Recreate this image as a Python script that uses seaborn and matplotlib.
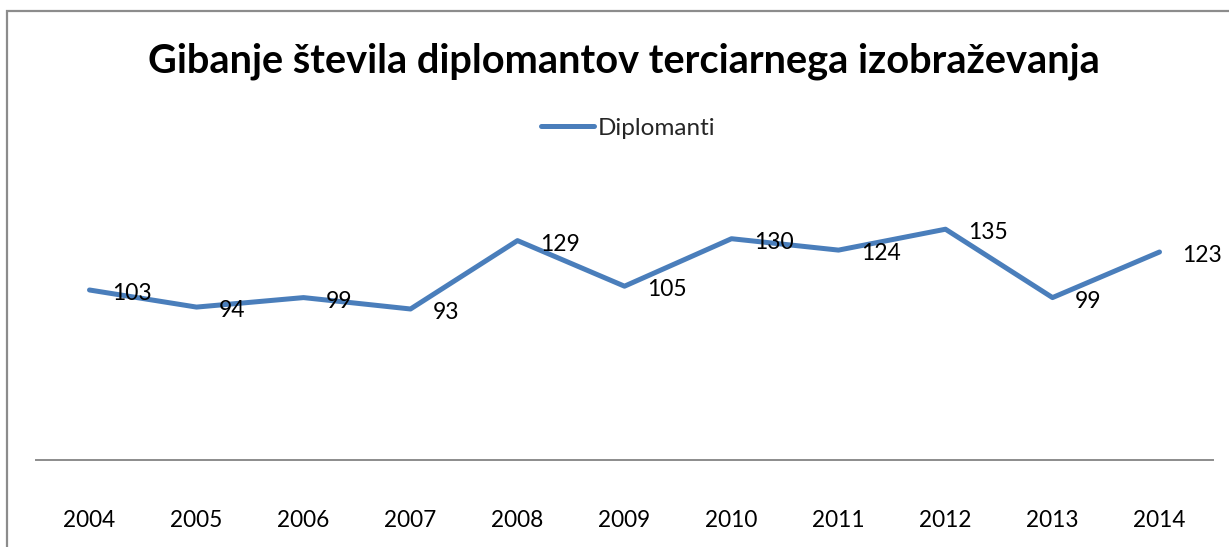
import matplotlib
matplotlib.use("Agg")
import matplotlib.pyplot as plt
import matplotlib.patches as mpatches
import pandas as pd
import seaborn as sns

# --- data ---
years = ["2004", "2005", "2006", "2007", "2008", "2009",
         "2010", "2011", "2012", "2013", "2014"]
graduates = [103, 94, 99, 93, 129, 105, 130, 124, 135, 99, 123]
series_name = "Diplomanti"
title = "Gibanje števila diplomantov terciarnega izobraževanja"

df = pd.DataFrame({"leto": years, "vrednost": graduates})

sns.set_theme(style="white")
plt.rcParams["font.family"] = ["Lato", "DejaVu Sans"]

W, H = 1229, 547
fig = plt.figure(figsize=(W / 100, H / 100), dpi=100)
ax = fig.add_axes([36 / W, 87 / H, (1213 - 36) / W, (460 - 150) / H])

line_color = "#4A7EBB"
sns.lineplot(data=df, x="leto", y="vrednost", ax=ax, color=line_color,
             linewidth=3.6, solid_capstyle="round", solid_joinstyle="round",
             sort=False, label=series_name, legend=False)

ax.set_xlim(-0.5, len(years) - 0.5)
ax.set_ylim(13.5, 176.7)

# data labels to the right of each point
for i, v in enumerate(graduates):
    ax.annotate(str(v), (i, v), xytext=(16, -2.5), textcoords="offset points",
                ha="left", va="center", fontsize=16.5, color="black")

# axis styling (Excel look: only a gray category axis)
for side in ["top", "right", "left"]:
    ax.spines[side].set_visible(False)
ax.spines["bottom"].set_color("#8c8c8c")
ax.spines["bottom"].set_linewidth(1.4)
ax.set_yticks([])
ax.set_xlabel("")
ax.set_ylabel("")
ax.tick_params(axis="x", length=0, pad=36, labelsize=16.3, colors="black")

fig.text(624 / W, 1 - 61 / H, title, ha="center", va="center",
         fontsize=28.6, fontweight="bold", color="black")

handle = plt.Line2D([0], [0], color=line_color, linewidth=3.6, solid_capstyle="round")
fig.legend(handles=[handle], labels=[series_name], loc="center",
           bbox_to_anchor=(628 / W, 1 - 128 / H), frameon=False,
           fontsize=17.5, handlelength=2.2, handletextpad=0.15)

# outer chart border (left and top visible)
fig.add_artist(mpatches.Rectangle((7 / W, -0.1), 1.2, 1.1 - 10.5 / H,
                                  transform=fig.transFigure, fill=False,
                                  edgecolor="#8c8c8c", linewidth=1.6))

fig.savefig("out.png", dpi=100, facecolor="white")
plt.close(fig)
